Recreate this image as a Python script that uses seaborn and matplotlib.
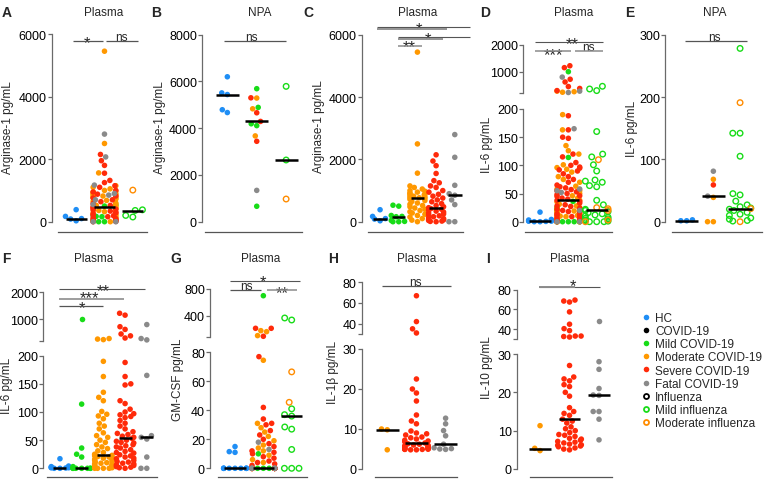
import warnings
warnings.filterwarnings('ignore')
import numpy as np
import pandas as pd
import matplotlib
matplotlib.use('Agg')
import matplotlib.pyplot as plt
import seaborn as sns
from matplotlib.lines import Line2D

sns.set_style('ticks')
plt.rcParams['font.family'] = ['Liberation Sans', 'DejaVu Sans']

# ---------------- data ----------------
# A / C : plasma arginase-1 (pg/mL)
arg_hc = [30, 85, 100, 170, 385]
arg_mild = [0, 0, 10, 40, 160, 170, 200, 500, 530]
arg_moderate = [5450, 2500, 1560, 1150, 1100, 1050, 1000, 980, 950, 920, 900, 880, 860, 840, 820, 800,
                780, 770, 750, 720, 680, 650, 600, 560, 520, 480, 440, 400, 360, 320, 280, 240, 200,
                150, 100, 50, 0]
arg_severe = [2150, 1950, 1800, 1550, 1320, 1250, 1150, 1100, 1000, 950, 880, 820, 760, 700, 640, 580,
              520, 480, 450, 420, 400, 370, 340, 310, 280, 250, 220, 190, 160, 130, 100, 80, 60, 40,
              20, 10, 0]
arg_fatal = [0, 0, 550, 700, 850, 900, 1170, 2070, 2800]
arg_flu_mild = [150, 200, 360, 380]
arg_flu_moderate = [1010]
arg_a_medians = [100, 460, 350]
arg_c_medians = [100, 160, 750, 450, 860]

# B : NPA arginase-1
npa_arg_hc = [4670, 4790, 5440, 5510, 6200]
npa_arg_mild = [5690, 4890, 4110, 4190, 660]
npa_arg_moderate = [5290, 4830, 3670]
npa_arg_severe = [5300, 4660, 4290, 3440]
npa_arg_fatal = [1340]
npa_arg_flu_mild = [5790, 2640]
npa_arg_flu_moderate = [970]
npa_arg_medians = [5430, 4290, 2640]

# D / F : plasma IL-6
il6_hc = [0, 0, 0.5, 1, 1, 1.5, 2, 3, 4, 17]
il6_mild = [0, 0, 0, 0, 0, 0, 0, 3, 20, 25, 36, 114, 1000]
il6_moderate = [280, 260, 240, 190, 163, 135, 126, 120, 101, 96, 93, 88, 80, 75, 70, 63, 58, 55, 50,
                46, 42, 38, 35, 31, 28, 25, 24, 23, 22, 21, 20, 19, 18, 16, 15, 14, 12, 11, 10, 9, 8,
                7, 6, 5, 4, 3, 2, 1, 0, 0, 0, 0]
il6_severe = [1220, 1150, 720, 620, 450, 380, 300, 188, 163, 150, 148, 120, 115, 105, 100, 97, 95, 92,
              90, 85, 80, 75, 70, 65, 62, 60, 57, 55, 53, 50, 48, 46, 45, 42, 40, 38, 36, 33, 30, 28,
              27, 24, 22, 20, 18, 17, 14, 12, 11, 9, 8, 6, 5, 3, 2, 1, 0]
il6_fatal = [0, 0, 20, 52, 55, 58, 165, 230, 280, 800]
il6_flu_mild = [460, 360, 300, 160, 120, 115, 101, 90, 74, 72, 70, 64, 62, 38, 30, 22, 20, 18, 16, 14,
                12, 10, 8, 6, 5, 3, 2, 1, 0, 0, 0]
il6_flu_moderate = [110, 25, 23, 20, 3, 0]
il6_d_medians = [1, 38, 21]
il6_f_medians = [0, 0, 24, 53, 55]

# E : NPA IL-6
npa_il6_hc = [1.5, 3, 1.5]
npa_il6_moderate = [0, 0, 39, 68]
npa_il6_severe = [59]
npa_il6_fatal = [41, 81]
npa_il6_flu_mild = [278, 142, 142, 105, 45, 43, 33, 27, 24, 22, 20, 18, 15, 12, 10, 6, 4, 2, 1]
npa_il6_flu_moderate = [191, 21, 0]
npa_il6_medians = [1, 41, 21]

# G : plasma GM-CSF
gm_hc = [0, 0, 0, 0, 0, 0, 0, 0, 0, 11, 11.5, 15]
gm_mild = [700, 10, 0, 0, 0, 0]
gm_moderate = [179, 164, 105, 74.5, 31, 28, 25, 22, 19, 16, 14, 12, 9, 6, 4,
               0, 0, 0, 0, 0, 0, 0, 0, 0, 0, 0, 0, 0, 0, 0]
gm_severe = [214, 214, 95, 77, 42, 34, 31, 30, 26, 23, 20, 17, 15, 12, 11, 10, 8, 7, 5, 4, 3, 2,
             0, 0, 0, 0, 0, 0, 0, 0, 0, 0, 0, 0, 0, 0, 0, 0, 0]
gm_fatal = [18, 13, 0, 0, 0, 0, 0, 0]
gm_flu_mild = [368, 338, 41, 37, 36, 28.5, 27, 13, 0, 0, 0]
gm_flu_moderate = [66.5, 45.5]
gm_medians = [0, 0, 36]

# H : plasma IL-1beta
il1b_moderate = [4.8, 9.8, 10]
il1b_severe = [67, 42, 35, 31, 22.5, 20, 19, 17, 13.5, 12, 11.3, 9.5, 9, 8.8, 8.5, 8, 7.8, 7.5, 7.2, 7,
               6.8, 6.5, 6.3, 6.2, 6, 5.9, 5.8, 5.7, 5.6, 5.5, 5.4, 5.3, 5.2, 5.1, 5, 5, 5, 5, 4.9,
               4.9, 4.8, 4.8]
il1b_fatal = [12.7, 11.3, 9.6, 8.3, 6.2, 5.3, 5.1, 5.0, 4.9]
il1b_medians = [9.8, 6.5, 6.2]

# I : plasma IL-10
il10_moderate = [4.8, 5.4, 11.3]
il10_severe = [69.5, 68.5, 67.5, 57.5, 45, 40.5, 38.5, 33, 33, 32.5, 32, 27, 24, 23.5, 23, 22, 21.5,
               20, 19, 16, 15, 14.5, 14, 13, 12.5, 12, 11, 10.5, 10, 9.5, 9, 8.8, 8.5, 8, 7.8, 7.5,
               7.2, 7, 6.8, 6.5, 6.3, 6.2, 6, 5.8, 5.5, 5.2, 5]
il10_fatal = [48, 28, 26, 21, 19.3, 19.2, 15, 15, 13, 7.6]
il10_medians = [5.3, 13, 19.2]

legend_labels = ['HC', 'COVID-19', 'Mild COVID-19', 'Moderate COVID-19', 'Severe COVID-19',
                 'Fatal COVID-19', 'Influenza', 'Mild influenza', 'Moderate influenza']

# ---------------- style ----------------
PAL = {'HC': '#1f8ef5', 'COVID-19': '#000000', 'Mild': '#18dc18', 'Moderate': '#ff9800',
       'Severe': '#ff2a0a', 'Fatal': '#8a8a8a', 'FluMild': '#18dc18', 'FluModerate': '#ff8c00'}
MS = 4.0
HLW = 1.0
SPC = '#6a6a6a'
W, H = 767, 485
fig = plt.figure(figsize=(W / 100, H / 100), dpi=100)


def fx(px):
    return px / W


def fy(py):
    return 1 - py / H


def build(parts):
    rows = []
    for grp, cls, vals in parts:
        for v in vals:
            rows.append({'group': grp, 'cls': cls, 'value': v, 'hollow': cls.startswith('Flu')})
    return pd.DataFrame(rows)


def draw_panel(parts, order, medians, geom, half, lines, texts):
    df = build(parts)
    l, r, x0, x1 = geom['x']
    segs = [('lower', geom['lower'])]
    if geom.get('upper'):
        segs.append(('upper', geom['upper']))
    axes = {}
    for name, (vlo, vhi, pylo, pyhi, ticks, labels) in segs:
        ax = fig.add_axes([fx(l), fy(pylo), (r - l) / W, (pylo - pyhi) / H])
        if name == 'lower':
            sub = df[df.value <= vhi]
        else:
            sub = df[df.value > geom['lower'][1]]
        for hollow in (False, True):
            s = sub[sub.hollow == hollow]
            if len(s) == 0:
                continue
            n0 = len(ax.collections)
            sns.swarmplot(data=s, x='group', y='value', hue='cls', order=order, palette=PAL,
                          size=MS, linewidth=0, legend=False, ax=ax)
            for c in ax.collections[n0:]:
                c.set_clip_on(False)
                c.set_zorder(3)
                if hollow:
                    fc = c.get_facecolors()
                    c.set_facecolors('none')
                    c.set_edgecolors(fc)
                    c.set_linewidths(HLW)
        ax.set_xlim(x0, x1)
        ax.set_ylim(vlo, vhi)
        ax.patch.set_alpha(0)
        ax.set_xlabel('')
        ax.set_ylabel('')
        ax.set_xticks([])
        ax.set_yticks(ticks)
        ax.set_yticklabels(labels)
        for sname in ('top', 'right'):
            ax.spines[sname].set_visible(False)
        ax.spines['left'].set_position(('outward', (l - geom['spine']) * 0.72))
        ax.spines['left'].set_color(SPC)
        ax.spines['left'].set_linewidth(0.9)
        if name == 'lower':
            ax.spines['bottom'].set_position(('outward', (geom['xline'] - pylo) * 0.72))
            ax.spines['bottom'].set_color('#555555')
            ax.spines['bottom'].set_linewidth(0.9)
        else:
            ax.spines['bottom'].set_visible(False)
        ax.tick_params(axis='y', direction='out', length=2.6, width=0.9, color=SPC,
                       labelsize=9, pad=1.0, labelcolor='black')
        ax.tick_params(axis='x', length=0)
        axes[name] = ax
    low = axes['lower']
    xs = np.arange(len(order))
    low.hlines(medians, xs - half, xs + half, colors='black', linewidth=1.8, zorder=6,
               clip_on=False)
    top = axes.get('upper', low)
    for (xa, xb, yv, col, lw) in lines:
        top.plot([xa, xb], [yv, yv], color=col, lw=lw, clip_on=False, solid_capstyle='butt',
                 zorder=4)
    for (s, xt, yt) in texts:
        fs = 8.5 if s == 'ns' else 12
        top.text(xt, yt, s, ha='center', va='baseline', fontsize=fs, clip_on=False)
    return axes


G1 = '#555555'
G2 = '#8c8c8c'

# A
draw_panel([('HC', 'HC', arg_hc), ('COVID-19', 'Mild', arg_mild), ('COVID-19', 'Moderate', arg_moderate),
            ('COVID-19', 'Severe', arg_severe), ('COVID-19', 'Fatal', arg_fatal),
            ('Influenza', 'FluMild', arg_flu_mild), ('Influenza', 'FluModerate', arg_flu_moderate)],
           ['HC', 'COVID-19', 'Influenza'], arg_a_medians,
           {'x': (58.3, 146.7, -0.63, 2.49), 'spine': 51.7, 'xline': 233.3,
            'lower': (0, 6000, 222.7, 35, [0, 2000, 4000, 6000], ['0', '2000', '4000', '6000'])},
           0.37,
           [(-0.12, 0.95, 5790, G1, 0.9), (1.05, 2.18, 5790, G1, 0.9)],
           [('*', 0.40, 5595), ('ns', 1.60, 5819)])

# B
draw_panel([('HC', 'HC', npa_arg_hc), ('COVID-19', 'Mild', npa_arg_mild),
            ('COVID-19', 'Moderate', npa_arg_moderate), ('COVID-19', 'Severe', npa_arg_severe),
            ('COVID-19', 'Fatal', npa_arg_fatal), ('Influenza', 'FluMild', npa_arg_flu_mild),
            ('Influenza', 'FluModerate', npa_arg_flu_moderate)],
           ['HC', 'COVID-19', 'Influenza'], npa_arg_medians,
           {'x': (205, 301.7, -0.76, 2.53), 'spine': 202, 'xline': 233.3,
            'lower': (0, 8000, 222.7, 35.7, [0, 2000, 4000, 6000, 8000],
                      ['0', '2000', '4000', '6000', '8000'])},
           0.39,
           [(-0.11, 2.0, 7720, G1, 0.9)],
           [('ns', 0.83, 7760)])

# C
draw_panel([('HC', 'HC', arg_hc), ('Mild', 'Mild', arg_mild), ('Moderate', 'Moderate', arg_moderate),
            ('Severe', 'Severe', arg_severe), ('Fatal', 'Fatal', arg_fatal)],
           ['HC', 'Mild', 'Moderate', 'Severe', 'Fatal'], arg_c_medians,
           {'x': (368.3, 463, -0.63, 4.44), 'spine': 361.7, 'xline': 233.3,
            'lower': (0, 6000, 222.7, 36, [0, 2000, 4000, 6000], ['0', '2000', '4000', '6000'])},
           0.36,
           [(-0.16, 4.81, 6248, G1, 0.8), (-0.16, 3.58, 6193, G2, 1.3),
            (0.96, 4.81, 5927, G1, 0.8), (0.96, 3.37, 5872, G2, 1.3), (0.96, 2.25, 5657, G2, 1.1)],
           [('*', 2.09, 6055), ('*', 2.57, 5734), ('**', 1.55, 5477)])

# D
draw_panel([('HC', 'HC', il6_hc), ('COVID-19', 'Mild', il6_mild), ('COVID-19', 'Moderate', il6_moderate),
            ('COVID-19', 'Severe', il6_severe), ('COVID-19', 'Fatal', il6_fatal),
            ('Influenza', 'FluMild', il6_flu_mild), ('Influenza', 'FluModerate', il6_flu_moderate)],
           ['HC', 'COVID-19', 'Influenza'], il6_d_medians,
           {'x': (525, 612, -0.53, 2.54), 'spine': 523.3, 'xline': 233.3,
            'lower': (0, 200, 222.7, 110, [0, 50, 100, 150, 200], ['0', '50', '100', '150', '200']),
            'upper': (200, 2000, 94.3, 45.7, [200, 1000, 2000], ['', '1000', '2000'])},
           0.39,
           [(-0.18, 2.23, 2089, G1, 0.8), (-0.18, 1.10, 1767, G2, 1.1), (1.24, 2.23, 1767, G2, 1.1)],
           [('**', 1.12, 1867), ('***', 0.49, 1470), ('ns', 1.71, 1804)])

# E
draw_panel([('HC', 'HC', npa_il6_hc), ('COVID-19', 'Moderate', npa_il6_moderate),
            ('COVID-19', 'Severe', npa_il6_severe), ('COVID-19', 'Fatal', npa_il6_fatal),
            ('Influenza', 'FluMild', npa_il6_flu_mild), ('Influenza', 'FluModerate', npa_il6_flu_moderate)],
           ['HC', 'COVID-19', 'Influenza'], npa_il6_medians,
           {'x': (671.7, 761.7, -0.56, 2.81), 'spine': 665, 'xline': 233.3,
            'lower': (0, 300, 222.7, 35.7, [0, 100, 200, 300], ['0', '100', '200', '300'])},
           0.44,
           [(-0.06, 2.27, 290, G1, 0.9)],
           [('ns', 1.05, 292)])

# F
draw_panel([('HC', 'HC', il6_hc), ('Mild', 'Mild', il6_mild), ('Moderate', 'Moderate', il6_moderate),
            ('Severe', 'Severe', il6_severe), ('Fatal', 'Fatal', il6_fatal)],
           ['HC', 'Mild', 'Moderate', 'Severe', 'Fatal'], il6_f_medians,
           {'x': (46.7, 157, -0.61, 4.47), 'spine': 43.3, 'xline': 478.3,
            'lower': (0, 200, 469.3, 356.7, [0, 50, 100, 150, 200], ['0', '50', '100', '150', '200']),
            'upper': (200, 2000, 341.7, 293.3, [200, 1000, 2000], ['', '1000', '2000'])},
           0.3,
           [(-0.05, 3.92, 2123, G1, 0.8), (-0.05, 2.95, 1751, G2, 1.2), (-0.05, 1.98, 1502, G1, 0.9)],
           [('**', 2.0, 1900), ('***', 1.34, 1617), ('*', 1.0, 1256)])

# G
draw_panel([('HC', 'HC', gm_hc), ('COVID-19', 'Mild', gm_mild), ('COVID-19', 'Moderate', gm_moderate),
            ('COVID-19', 'Severe', gm_severe), ('COVID-19', 'Fatal', gm_fatal),
            ('Influenza', 'FluMild', gm_flu_mild), ('Influenza', 'FluModerate', gm_flu_moderate)],
           ['HC', 'COVID-19', 'Influenza'], gm_medians,
           {'x': (218.3, 306.7, -0.59, 2.53), 'spine': 210, 'xline': 478.3,
            'lower': (0, 80, 469.3, 353.3, [0, 20, 40, 60, 80], ['0', '20', '40', '60', '80']),
            'upper': (80, 800, 338.3, 290, [80, 400, 800], ['', '400', '800'])},
           0.38,
           [(-0.18, 2.30, 915, G1, 0.8), (-0.18, 0.92, 785, G1, 0.9), (1.13, 2.19, 785, G2, 1.1)],
           [('*', 1.0, 836), ('ns', 0.41, 800), ('**', 1.65, 672)])

# H
draw_panel([('Moderate', 'Moderate', il1b_moderate), ('Severe', 'Severe', il1b_severe),
            ('Fatal', 'Fatal', il1b_fatal)],
           ['Moderate', 'Severe', 'Fatal'], il1b_medians,
           {'x': (375, 456.7, -0.42, 2.38), 'spine': 361.7, 'xline': 478.3,
            'lower': (0, 30, 470, 350, [0, 10, 20, 30], ['0', '10', '20', '30']),
            'upper': (30, 80, 335, 283.3, [30, 40, 60, 80], ['', '40', '60', '80'])},
           0.39,
           [(-0.18, 2.18, 76.7, G1, 0.9)],
           [('ns', 0.98, 77.7)])

# I
draw_panel([('Moderate', 'Moderate', il10_moderate), ('Severe', 'Severe', il10_severe),
            ('Fatal', 'Fatal', il10_fatal)],
           ['Moderate', 'Severe', 'Fatal'], il10_medians,
           {'x': (530, 611.7, -0.34, 2.43), 'spine': 516.7, 'xline': 478.3,
            'lower': (0, 30, 470, 355, [0, 10, 20, 30], ['0', '10', '20', '30']),
            'upper': (30, 80, 340, 290.7, [30, 40, 60, 80], ['', '40', '60', '80'])},
           0.37,
           [(-0.03, 2.03, 83.0, G1, 0.8), (-0.03, 1.19, 83.0, G2, 1.4)],
           [('*', 1.13, 79.7)])

# ---------------- text ----------------
letters = [('A', 2, 16.7), ('B', 151.5, 16.7), ('C', 303, 16.7), ('D', 480, 16.7), ('E', 625.5, 16.7),
           ('F', 1.7, 262.7), ('G', 170, 263), ('H', 328.5, 263), ('I', 486.5, 263)]
for s, x, y in letters:
    fig.text(fx(x), fy(y), s, fontsize=10, fontweight='bold', ha='left', va='baseline')

titles = [('Plasma', 104, 16.5), ('NPA', 259.7, 16.5), ('Plasma', 418, 16.5), ('Plasma', 573.5, 16.5),
          ('NPA', 715, 16.5), ('Plasma', 94, 262.5), ('Plasma', 260.8, 262.5), ('Plasma', 416.7, 262.5),
          ('Plasma', 570, 262.5)]
for s, x, y in titles:
    fig.text(fx(x), fy(y), s, fontsize=8.5, ha='center', va='baseline')

ylabels = [('Arginase-1 pg/mL', 7.7, 127.5), ('Arginase-1 pg/mL', 160, 127.5),
           ('Arginase-1 pg/mL', 319, 126.7), ('IL-6 pg/mL', 486.7, 145), ('IL-6 pg/mL', 631.7, 129),
           ('IL-6 pg/mL', 6.7, 385.5), ('GM-CSF pg/mL', 178, 380), ('IL-1β pg/mL', 333, 373),
           ('IL-10 pg/mL', 486.7, 367.5)]
for s, x, y in ylabels:
    fig.text(fx(x), fy(y), s, fontsize=8.5, rotation=90, ha='center', va='center')

# ---------------- legend ----------------
leg_colors = [PAL['HC'], PAL['COVID-19'], PAL['Mild'], PAL['Moderate'], PAL['Severe'], PAL['Fatal'],
              '#000000', PAL['FluMild'], PAL['FluModerate']]
handles = []
for i, c in enumerate(leg_colors):
    hollow = i >= 6
    handles.append(Line2D([], [], marker='o', linestyle='', markersize=4.0 if not hollow else 3.6,
                          markerfacecolor='none' if hollow else c, markeredgecolor=c,
                          markeredgewidth=1.3 if hollow else 0))
fig.legend(handles, legend_labels, loc='upper left', bbox_to_anchor=(fx(642.8), fy(312.8)),
           frameon=False, fontsize=8.5, handlelength=0.6, handletextpad=0.45, labelspacing=0.1,
           borderpad=0, borderaxespad=0)

fig.savefig('out.png', dpi=100)
